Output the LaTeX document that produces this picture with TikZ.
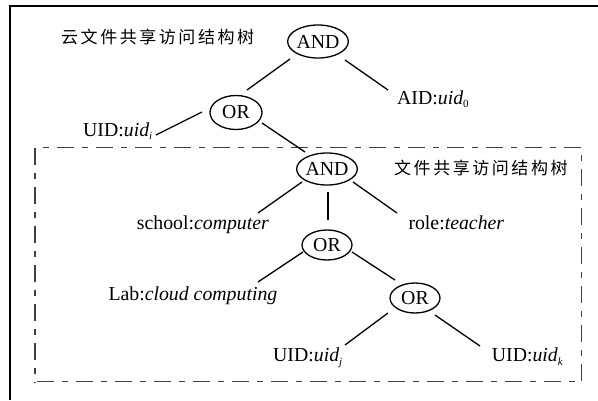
\documentclass[tikz,border=0pt]{standalone}
\usepackage{fontspec}
\setmainfont{Liberation Serif}
\newfontfamily\cjkfont[LetterSpace=15]{Noto Sans CJK SC}
\newcommand\lowsub[1]{\raisebox{-3.5pt}{\fontsize{11}{11}\selectfont #1}}
\usetikzlibrary{shapes.geometric}
\begin{document}
\begin{tikzpicture}[x=1pt,y=-1pt,
  gate/.style={draw,ellipse,minimum width=50pt,minimum height=31pt,inner sep=0pt,line width=1.3pt,font=\fontsize{19.8}{20}\selectfont},
  lbl/.style={anchor=base west,inner sep=0pt,font=\fontsize{19.8}{20}\selectfont},
  cjk/.style={anchor=west,inner sep=0pt,font=\fontsize{17}{17}\selectfont\cjkfont},
  conn/.style={line width=1.3pt},
  dashbox/.style={draw=black!75,line width=1.5pt,dash pattern=on 17pt off 8pt on 6pt off 8pt,dash phase=16.8pt}]
\useasboundingbox (0,0) rectangle (598,400);
% outer frame
\draw[line width=1.6pt] (10,400) -- (10,6) -- (598,6);
% inner dash-dot box
\draw[dashbox] (35,381.7) -- (35,147.5) -- (581.7,147.5) -- (581.7,381.7) -- cycle;
% gates
\node[gate,minimum height=33pt] (and1) at (318,41.5) {AND};
\node[gate,minimum height=34pt,minimum width=52pt] (or1) at (236,112.5) {OR};
\node[gate,minimum height=32pt] (and2) at (327,169) {AND};
\node[gate,minimum height=30pt] (or2) at (327,245) {OR};
\node[gate,minimum height=30pt] (or3) at (415,298) {OR};
% titles
\node[cjk] (t1) at (61,37) {云文件共享访问结构树};
\node[cjk] (t2) at (394,168) {文件共享访问结构树};
% labels
\node[lbl] (uidi) at (83,136) {UID:\textit{uid}\lowsub{\textit{i}}};
\node[lbl] (aid) at (397,104) {AID:\textit{uid}\lowsub{0}};
\node[lbl] (school) at (136.7,229) {school:\textit{computer}};
\node[lbl] (role) at (408.3,229) {role:\textit{teacher}};
\node[lbl] (lab) at (108.3,300) {Lab:\textit{cloud computing}};
\node[lbl] (uidj) at (273,361.5) {UID:\textit{uid}\lowsub{\textit{j}}};
\node[lbl] (uidk) at (491.7,361.5) {UID:\textit{uid}\lowsub{\textit{k}}};
% connectors
\draw[conn] ([xshift=-28pt,yshift=-17.5pt]and1.center) -- ([xshift=11pt,yshift=22.5pt]or1.center);
\draw[conn] ([xshift=27pt,yshift=-18.5pt]and1.center) -- ([xshift=-9pt,yshift=14pt]aid.base west);
\draw[conn] ([xshift=-34pt,yshift=0.5pt]or1.center) -- ([xshift=73pt,yshift=1pt]uidi.base west);
\draw[conn] ([xshift=26pt,yshift=-10.5pt]or1.center) -- ([xshift=-22pt,yshift=17pt]and2.center);
\draw[conn] ([xshift=-25pt,yshift=-13pt]and2.center) -- ([xshift=121.3pt,yshift=16pt]school.base west);
\draw[conn] ([xshift=1pt,yshift=-23pt]and2.center) -- ([xshift=1pt,yshift=25pt]or2.center);
\draw[conn] ([xshift=26pt,yshift=-13pt]and2.center) -- ([xshift=-11.3pt,yshift=16pt]role.base west);
\draw[conn] ([xshift=-24pt,yshift=-7pt]or2.center) -- ([xshift=149.7pt,yshift=18pt]lab.base west);
\draw[conn] ([xshift=25pt,yshift=-7pt]or2.center) -- ([xshift=-20pt,yshift=18pt]or3.center);
\draw[conn] ([xshift=-27pt,yshift=-15pt]or3.center) -- ([xshift=72pt,yshift=16.5pt]uidj.base west);
\draw[conn] ([xshift=20pt,yshift=-17pt]or3.center) -- ([xshift=-11.7pt,yshift=15.5pt]uidk.base west);
\end{tikzpicture}
\end{document}
